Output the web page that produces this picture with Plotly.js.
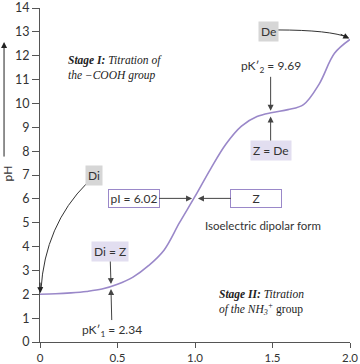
<!DOCTYPE html>
<html>
<head>
<meta charset="utf-8">
<script src="https://cdn.plot.ly/plotly-3.0.1.min.js"></script>
<style>html,body{margin:0;padding:0;background:#fff;}#chart{width:360px;height:364px;}</style>
</head>
<body>
<div id="chart"></div>
<script>
// Equivalents of OH- added (x) and pH (y)
const equivalents = [0, 0.1, 0.2, 0.3, 0.4, 0.5, 0.6, 0.7, 0.8, 0.9, 1.0, 1.1, 1.2, 1.3, 1.4, 1.5, 1.6, 1.7, 1.8, 1.9, 2.0];
const pHValues    = [2.0, 2.02, 2.06, 2.12, 2.22, 2.42, 2.72, 3.2, 3.85, 5.0, 6.1, 7.25, 8.3, 9.05, 9.45, 9.62, 9.74, 9.95, 10.8, 12.1, 12.68];

const xTickVals = [0, 0.5, 1.0, 1.5, 2.0];
const xTickText = ['0', '0.5', '1.0', '1.5', '2.0'];
const yTickVals = [0,1,2,3,4,5,6,7,8,9,10,11,12,13,14];

const pK1 = 2.34, pI = 6.02, pK2 = 9.69;

const sans = 'Lato, "Open Sans", sans-serif';
const serif = '"Liberation Serif", "DejaVu Serif", serif';
const purple = '#9a88c9';
const arrowCol = '#444';

const trace = {
  x: equivalents, y: pHValues, type: 'scatter', mode: 'lines',
  line: {color: purple, width: 1.6, shape: 'spline', smoothing: 1.0},
  hoverinfo: 'skip'
};

const ann = [
  // y-axis arrow
  {xref:'paper', yref:'paper', x:-0.116, y:0.898, ax:0, ay:116, text:'', showarrow:true,
   arrowhead:2, arrowsize:1.2, arrowwidth:1, arrowcolor:'#222'},
  {xref:'paper', yref:'paper', x:-0.102, y:0.506, xanchor:'center', yanchor:'middle', text:'pH', textangle:-90, showarrow:false,
   font:{family:sans, size:12, color:'#333'}},
  // Stage I
  {xref:'paper', yref:'paper', x:0.084, y:0.82, xanchor:'left', yanchor:'middle', align:'left', showarrow:false,
   text:'<b><i>Stage I:</i></b><i> Titration of<br>the −COOH group</i>', font:{family:serif, size:11.5, color:'#222'}},
  // Stage II
  {xref:'paper', yref:'paper', x:0.571, y:0.118, xanchor:'left', yanchor:'middle', align:'left', showarrow:false,
   text:'<b><i>Stage II:</i></b><i> Titration<br>of the NH<sub>3</sub><sup>+</sup></i> group', font:{family:serif, size:11.5, color:'#222'}},
  // Di box (curved arrow drawn as shape)
  {x:0.348, y:6.96, xref:'x', yref:'y', text:'Di', showarrow:false, bgcolor:'#d6d6d6', borderpad:2,
   font:{family:sans, size:12, color:'#333'}},
  {x:0.003, y:2.05, xref:'x', yref:'y', text:'', showarrow:true, ax:-0.5, ay:-12,
   arrowhead:2, arrowsize:1.2, arrowwidth:1, arrowcolor:'#222'},
  // pI box
  {x:0.981, y:pI, xref:'x', yref:'y', text:'pI = 6.02', showarrow:true, ax:-58.5, ay:0,
   bgcolor:'#fff', bordercolor:purple, borderwidth:1, borderpad:1, width:48,
   arrowhead:2, arrowsize:1.2, arrowwidth:1, arrowcolor:arrowCol,
   font:{family:sans, size:12, color:'#333'}},
  // Z box
  {x:1.019, y:pI, xref:'x', yref:'y', text:'Z', showarrow:true, ax:58.5, ay:0,
   bgcolor:'#fff', bordercolor:purple, borderwidth:1, borderpad:1, width:48,
   arrowhead:2, arrowsize:1.2, arrowwidth:1, arrowcolor:arrowCol,
   font:{family:sans, size:12, color:'#333'}},
  {x:1.439, y:4.88, xref:'x', yref:'y', text:'Isoelectric dipolar form', showarrow:false,
   font:{family:sans, size:11.5, color:'#333'}},
  // Z = De
  {x:1.488, y:9.45, xref:'x', yref:'y', text:'Z = De', showarrow:true, ax:0, ay:34,
   bgcolor:'#e2def0', borderpad:2,
   arrowhead:2, arrowsize:1.2, arrowwidth:1, arrowcolor:arrowCol,
   font:{family:sans, size:12, color:'#333'}},
  // pK'2
  {x:1.488, y:pK2, xref:'x', yref:'y', text:'pK′<sub>2</sub> = 9.69', showarrow:true, ax:0, ay:-44,
   arrowhead:2, arrowsize:1.2, arrowwidth:1, arrowcolor:arrowCol,
   font:{family:sans, size:12, color:'#333'}},
  // De box
  {x:1.477, y:13.01, xref:'x', yref:'y', text:'De', showarrow:false, bgcolor:'#d6d6d6', borderpad:2,
   font:{family:sans, size:12, color:'#333'}},
  {x:1.995, y:12.72, xref:'x', yref:'y', text:'', showarrow:true, ax:-10, ay:-5,
   arrowhead:2, arrowsize:1.2, arrowwidth:1, arrowcolor:'#222'},
  // Di = Z
  {x:0.458, y:2.43, xref:'x', yref:'y', text:'Di = Z', showarrow:true, ax:-1, ay:-32.5,
   bgcolor:'#e2def0', borderpad:2,
   arrowhead:2, arrowsize:1.2, arrowwidth:1, arrowcolor:arrowCol,
   font:{family:sans, size:12, color:'#333'}},
  // pK'1
  {x:0.458, y:2.22, xref:'x', yref:'y', text:'pK′<sub>1</sub> = 2.34', showarrow:true, ax:1, ay:41,
   arrowhead:2, arrowsize:1.2, arrowwidth:1, arrowcolor:arrowCol,
   font:{family:sans, size:12, color:'#333'}}
];

const shapes = [
  {type:'path', xref:'x', yref:'y', path:'M 0.303,6.66 Q 0.032,4.9 0.006,2.18',
   line:{color:'#333', width:1}},
  {type:'path', xref:'x', yref:'y', path:'M 1.529,13.08 Q 1.871,13.08 1.99,12.76',
   line:{color:'#333', width:1}}
];

const layout = {
  width: 360, height: 364,
  margin: {l:40, r:10, t:8, b:22, pad:0},
  paper_bgcolor:'#fff', plot_bgcolor:'#fff',
  showlegend:false,
  xaxis: {range:[0,2], tickvals:xTickVals, ticktext:xTickText, showline:true, linecolor:'#555', linewidth:1,
    ticks:'outside', ticklen:5, tickcolor:'#555', showgrid:false, zeroline:false,
    tickfont:{family:sans, size:11.5, color:'#333'}, fixedrange:true, automargin:false},
  yaxis: {range:[0,14], tickvals:yTickVals, showline:true, linecolor:'#555', linewidth:1,
    ticks:'outside', ticklen:7, tickcolor:'#555', showgrid:false, zeroline:false,
    tickfont:{family:sans, size:12.5, color:'#333'}, fixedrange:true, automargin:false},
  annotations: ann,
  shapes: shapes
};

Plotly.newPlot('chart', [trace], layout, {displayModeBar:false, staticPlot:true});
</script>
</body>
</html>
